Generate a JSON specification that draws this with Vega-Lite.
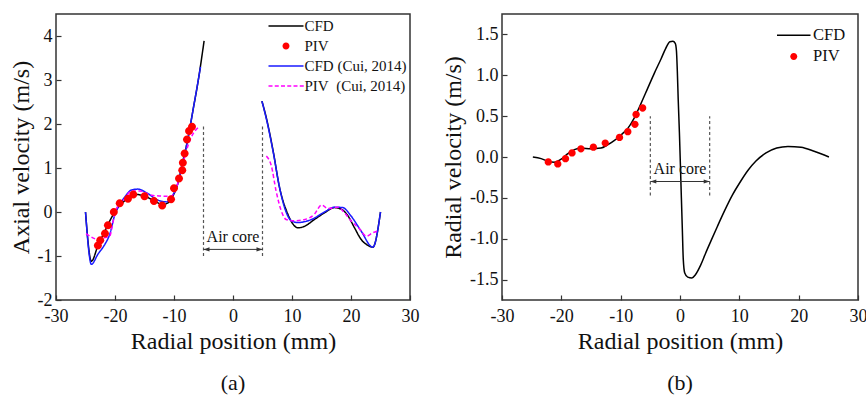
{
  "$schema": "https://vega.github.io/schema/vega-lite/v6.json",
  "background": "white",
  "padding": {"left": 8, "top": 13, "right": 0, "bottom": 0},
  "spacing": 20,
  "config": {
    "font": "Liberation Serif",
    "locale": {"number": {"decimal": ".", "thousands": ",", "grouping": [3], "currency": ["", ""], "minus": "-"}},
    "view": {"stroke": "#333333", "strokeWidth": 1.5},
    "axis": {
      "domain": false, "grid": false, "labelFont": "Liberation Serif", "labelFontSize": 18, "labelColor": "#111111",
      "titleFont": "Liberation Serif", "titleFontSize": 24, "titleFontWeight": "normal", "titleColor": "#111111",
      "tickColor": "#333333", "tickWidth": 1.2, "labelFlush": false, "labelOverlap": false
    },
    "legend": {"labelFont": "Liberation Serif"},
    "title": {"font": "Liberation Serif", "fontSize": 22, "fontWeight": "normal", "color": "#111111"}
  },
  "resolve": {"scale": {"color": "independent", "shape": "independent", "strokeDash": "independent", "stroke": "independent"}, "legend": {"color": "independent", "shape": "independent"}},
  "datasets": {
    "axialLines": [
      {"series": "CFD", "part": "L", "r": -25, "v": 0},
      {"series": "CFD", "part": "L", "r": -24, "v": -1.12},
      {"series": "CFD", "part": "L", "r": -22.9, "v": -0.77},
      {"series": "CFD", "part": "L", "r": -21.7, "v": -0.43},
      {"series": "CFD", "part": "L", "r": -20.6, "v": -0.13},
      {"series": "CFD", "part": "L", "r": -19.5, "v": 0.1},
      {"series": "CFD", "part": "L", "r": -18.4, "v": 0.25},
      {"series": "CFD", "part": "L", "r": -17.2, "v": 0.36},
      {"series": "CFD", "part": "L", "r": -16.4, "v": 0.4},
      {"series": "CFD", "part": "L", "r": -15, "v": 0.36},
      {"series": "CFD", "part": "L", "r": -13.3, "v": 0.25},
      {"series": "CFD", "part": "L", "r": -11.9, "v": 0.17},
      {"series": "CFD", "part": "L", "r": -11, "v": 0.21},
      {"series": "CFD", "part": "L", "r": -10.2, "v": 0.36},
      {"series": "CFD", "part": "L", "r": -9.3, "v": 0.67},
      {"series": "CFD", "part": "L", "r": -8.5, "v": 1.16},
      {"series": "CFD", "part": "L", "r": -7.6, "v": 1.69},
      {"series": "CFD", "part": "L", "r": -6.8, "v": 2.3},
      {"series": "CFD", "part": "L", "r": -5.9, "v": 2.98},
      {"series": "CFD", "part": "L", "r": -4.9, "v": 3.89},
      {"series": "CFD", "part": "R", "r": 4.9, "v": 2.52},
      {"series": "CFD", "part": "R", "r": 5.65, "v": 2.14},
      {"series": "CFD", "part": "R", "r": 6.8, "v": 1.39},
      {"series": "CFD", "part": "R", "r": 7.9, "v": 0.55},
      {"series": "CFD", "part": "R", "r": 9.3, "v": -0.05},
      {"series": "CFD", "part": "R", "r": 10.2, "v": -0.28},
      {"series": "CFD", "part": "R", "r": 11, "v": -0.36},
      {"series": "CFD", "part": "R", "r": 12.2, "v": -0.32},
      {"series": "CFD", "part": "R", "r": 13.8, "v": -0.17},
      {"series": "CFD", "part": "R", "r": 15.5, "v": -0.02},
      {"series": "CFD", "part": "R", "r": 17.2, "v": 0.1},
      {"series": "CFD", "part": "R", "r": 18.4, "v": 0.06},
      {"series": "CFD", "part": "R", "r": 19.5, "v": -0.09},
      {"series": "CFD", "part": "R", "r": 20.6, "v": -0.36},
      {"series": "CFD", "part": "R", "r": 21.7, "v": -0.62},
      {"series": "CFD", "part": "R", "r": 22.9, "v": -0.76},
      {"series": "CFD", "part": "R", "r": 23.7, "v": -0.8},
      {"series": "CFD", "part": "R", "r": 25, "v": 0},
      {"series": "CFD (Cui, 2014)", "part": "L", "r": -25, "v": 0},
      {"series": "CFD (Cui, 2014)", "part": "L", "r": -24, "v": -1.19},
      {"series": "CFD (Cui, 2014)", "part": "L", "r": -22.9, "v": -0.96},
      {"series": "CFD (Cui, 2014)", "part": "L", "r": -21.7, "v": -0.73},
      {"series": "CFD (Cui, 2014)", "part": "L", "r": -20.9, "v": -0.51},
      {"series": "CFD (Cui, 2014)", "part": "L", "r": -20, "v": -0.05},
      {"series": "CFD (Cui, 2014)", "part": "L", "r": -19.2, "v": 0.17},
      {"series": "CFD (Cui, 2014)", "part": "L", "r": -18.4, "v": 0.33},
      {"series": "CFD (Cui, 2014)", "part": "L", "r": -17.2, "v": 0.5},
      {"series": "CFD (Cui, 2014)", "part": "L", "r": -16.1, "v": 0.52},
      {"series": "CFD (Cui, 2014)", "part": "L", "r": -14.7, "v": 0.44},
      {"series": "CFD (Cui, 2014)", "part": "L", "r": -12.7, "v": 0.27},
      {"series": "CFD (Cui, 2014)", "part": "L", "r": -11.3, "v": 0.23},
      {"series": "CFD (Cui, 2014)", "part": "L", "r": -10.5, "v": 0.33},
      {"series": "CFD (Cui, 2014)", "part": "L", "r": -9.6, "v": 0.55},
      {"series": "CFD (Cui, 2014)", "part": "L", "r": -8.6, "v": 1.05},
      {"series": "CFD (Cui, 2014)", "part": "L", "r": -7.6, "v": 1.7},
      {"series": "CFD (Cui, 2014)", "part": "L", "r": -6.6, "v": 2.45},
      {"series": "CFD (Cui, 2014)", "part": "L", "r": -5.5, "v": 3.3},
      {"series": "CFD (Cui, 2014)", "part": "R", "r": 4.9, "v": 2.52},
      {"series": "CFD (Cui, 2014)", "part": "R", "r": 5.65, "v": 2.12},
      {"series": "CFD (Cui, 2014)", "part": "R", "r": 6.8, "v": 1.37},
      {"series": "CFD (Cui, 2014)", "part": "R", "r": 7.9, "v": 0.55},
      {"series": "CFD (Cui, 2014)", "part": "R", "r": 9, "v": 0},
      {"series": "CFD (Cui, 2014)", "part": "R", "r": 9.9, "v": -0.2},
      {"series": "CFD (Cui, 2014)", "part": "R", "r": 11, "v": -0.24},
      {"series": "CFD (Cui, 2014)", "part": "R", "r": 13.3, "v": -0.17},
      {"series": "CFD (Cui, 2014)", "part": "R", "r": 15.5, "v": 0},
      {"series": "CFD (Cui, 2014)", "part": "R", "r": 17.2, "v": 0.11},
      {"series": "CFD (Cui, 2014)", "part": "R", "r": 18.6, "v": 0.1},
      {"series": "CFD (Cui, 2014)", "part": "R", "r": 20, "v": -0.09},
      {"series": "CFD (Cui, 2014)", "part": "R", "r": 21.7, "v": -0.43},
      {"series": "CFD (Cui, 2014)", "part": "R", "r": 23.7, "v": -0.8},
      {"series": "CFD (Cui, 2014)", "part": "R", "r": 25, "v": 0},
      {"series": "PIV\u00a0 (Cui, 2014)", "part": "L", "r": -24.9, "v": -0.49},
      {"series": "PIV\u00a0 (Cui, 2014)", "part": "L", "r": -22.9, "v": -0.62},
      {"series": "PIV\u00a0 (Cui, 2014)", "part": "L", "r": -21.7, "v": -0.58},
      {"series": "PIV\u00a0 (Cui, 2014)", "part": "L", "r": -20.9, "v": -0.55},
      {"series": "PIV\u00a0 (Cui, 2014)", "part": "L", "r": -20.3, "v": -0.2},
      {"series": "PIV\u00a0 (Cui, 2014)", "part": "L", "r": -19.8, "v": 0.06},
      {"series": "PIV\u00a0 (Cui, 2014)", "part": "L", "r": -18.4, "v": 0.29},
      {"series": "PIV\u00a0 (Cui, 2014)", "part": "L", "r": -17.2, "v": 0.48},
      {"series": "PIV\u00a0 (Cui, 2014)", "part": "L", "r": -15.8, "v": 0.48},
      {"series": "PIV\u00a0 (Cui, 2014)", "part": "L", "r": -13.8, "v": 0.38},
      {"series": "PIV\u00a0 (Cui, 2014)", "part": "L", "r": -11.6, "v": 0.36},
      {"series": "PIV\u00a0 (Cui, 2014)", "part": "L", "r": -10.5, "v": 0.36},
      {"series": "PIV\u00a0 (Cui, 2014)", "part": "L", "r": -9.6, "v": 0.55},
      {"series": "PIV\u00a0 (Cui, 2014)", "part": "L", "r": -8.8, "v": 0.93},
      {"series": "PIV\u00a0 (Cui, 2014)", "part": "L", "r": -7.9, "v": 1.39},
      {"series": "PIV\u00a0 (Cui, 2014)", "part": "L", "r": -7.1, "v": 1.69},
      {"series": "PIV\u00a0 (Cui, 2014)", "part": "L", "r": -5.65, "v": 1.95},
      {"series": "PIV\u00a0 (Cui, 2014)", "part": "R", "r": 5.65, "v": 1.27},
      {"series": "PIV\u00a0 (Cui, 2014)", "part": "R", "r": 6.5, "v": 1.05},
      {"series": "PIV\u00a0 (Cui, 2014)", "part": "R", "r": 7.3, "v": 0.48},
      {"series": "PIV\u00a0 (Cui, 2014)", "part": "R", "r": 8.2, "v": 0.02},
      {"series": "PIV\u00a0 (Cui, 2014)", "part": "R", "r": 9, "v": -0.17},
      {"series": "PIV\u00a0 (Cui, 2014)", "part": "R", "r": 10.2, "v": -0.2},
      {"series": "PIV\u00a0 (Cui, 2014)", "part": "R", "r": 12.2, "v": -0.17},
      {"series": "PIV\u00a0 (Cui, 2014)", "part": "R", "r": 13.8, "v": -0.05},
      {"series": "PIV\u00a0 (Cui, 2014)", "part": "R", "r": 15, "v": 0.16},
      {"series": "PIV\u00a0 (Cui, 2014)", "part": "R", "r": 16.1, "v": 0.08},
      {"series": "PIV\u00a0 (Cui, 2014)", "part": "R", "r": 17.8, "v": 0.11},
      {"series": "PIV\u00a0 (Cui, 2014)", "part": "R", "r": 18.9, "v": -0.02},
      {"series": "PIV\u00a0 (Cui, 2014)", "part": "R", "r": 20, "v": -0.2},
      {"series": "PIV\u00a0 (Cui, 2014)", "part": "R", "r": 21.5, "v": -0.39},
      {"series": "PIV\u00a0 (Cui, 2014)", "part": "R", "r": 22.6, "v": -0.55},
      {"series": "PIV\u00a0 (Cui, 2014)", "part": "R", "r": 23.7, "v": -0.47},
      {"series": "PIV\u00a0 (Cui, 2014)", "part": "R", "r": 24.6, "v": -0.43}
    ],
    "axialPIV": [
      {"series": "PIV", "r": -22.9, "v": -0.76},
      {"series": "PIV", "r": -22.5, "v": -0.64},
      {"series": "PIV", "r": -21.7, "v": -0.49},
      {"series": "PIV", "r": -21.2, "v": -0.3},
      {"series": "PIV", "r": -20.2, "v": 0.0},
      {"series": "PIV", "r": -19.2, "v": 0.2},
      {"series": "PIV", "r": -17.8, "v": 0.3},
      {"series": "PIV", "r": -16.9, "v": 0.4},
      {"series": "PIV", "r": -15, "v": 0.36},
      {"series": "PIV", "r": -13.4, "v": 0.25},
      {"series": "PIV", "r": -12, "v": 0.15},
      {"series": "PIV", "r": -10.5, "v": 0.29},
      {"series": "PIV", "r": -10, "v": 0.54},
      {"series": "PIV", "r": -9.15, "v": 0.76},
      {"series": "PIV", "r": -8.6, "v": 0.95},
      {"series": "PIV", "r": -8.5, "v": 1.12},
      {"series": "PIV", "r": -8.2, "v": 1.33},
      {"series": "PIV", "r": -7.8, "v": 1.65},
      {"series": "PIV", "r": -7.45, "v": 1.84},
      {"series": "PIV", "r": -6.95, "v": 1.94}
    ],
    "radialLines": [
      {"series": "CFD", "r": -24.8, "v": 0},
      {"series": "CFD", "r": -23.4, "v": -0.02},
      {"series": "CFD", "r": -22.3, "v": -0.05},
      {"series": "CFD", "r": -21.2, "v": -0.065},
      {"series": "CFD", "r": -20.1, "v": -0.03},
      {"series": "CFD", "r": -18.9, "v": 0.04},
      {"series": "CFD", "r": -17.8, "v": 0.09},
      {"series": "CFD", "r": -16.7, "v": 0.11},
      {"series": "CFD", "r": -15, "v": 0.1},
      {"series": "CFD", "r": -13.3, "v": 0.11},
      {"series": "CFD", "r": -12.2, "v": 0.15},
      {"series": "CFD", "r": -11.1, "v": 0.2},
      {"series": "CFD", "r": -9.95, "v": 0.27},
      {"series": "CFD", "r": -8.8, "v": 0.35},
      {"series": "CFD", "r": -7.7, "v": 0.48},
      {"series": "CFD", "r": -6.6, "v": 0.65},
      {"series": "CFD", "r": -5.45, "v": 0.84},
      {"series": "CFD", "r": -4.3, "v": 1.03},
      {"series": "CFD", "r": -3.2, "v": 1.2},
      {"series": "CFD", "r": -2.4, "v": 1.33},
      {"series": "CFD", "r": -1.7, "v": 1.41},
      {"series": "CFD", "r": -1.2, "v": 1.415},
      {"series": "CFD", "r": -0.8, "v": 1.39},
      {"series": "CFD", "r": -0.6, "v": 1.3},
      {"series": "CFD", "r": -0.45, "v": 1.05},
      {"series": "CFD", "r": -0.3, "v": 0.7},
      {"series": "CFD", "r": -0.1, "v": 0.3},
      {"series": "CFD", "r": 0.15, "v": -0.3},
      {"series": "CFD", "r": 0.4, "v": -0.9},
      {"series": "CFD", "r": 0.55, "v": -1.25},
      {"series": "CFD", "r": 0.8, "v": -1.42},
      {"series": "CFD", "r": 1.3, "v": -1.47},
      {"series": "CFD", "r": 2.0, "v": -1.48},
      {"series": "CFD", "r": 2.6, "v": -1.44},
      {"series": "CFD", "r": 3.5, "v": -1.32},
      {"series": "CFD", "r": 4.3, "v": -1.18},
      {"series": "CFD", "r": 5.2, "v": -1.03},
      {"series": "CFD", "r": 6.3, "v": -0.85},
      {"series": "CFD", "r": 7.5, "v": -0.66},
      {"series": "CFD", "r": 8.8, "v": -0.47},
      {"series": "CFD", "r": 10.2, "v": -0.3},
      {"series": "CFD", "r": 11.5, "v": -0.16},
      {"series": "CFD", "r": 12.8, "v": -0.05},
      {"series": "CFD", "r": 14.5, "v": 0.05},
      {"series": "CFD", "r": 16.3, "v": 0.11},
      {"series": "CFD", "r": 18.2, "v": 0.13},
      {"series": "CFD", "r": 20.4, "v": 0.12},
      {"series": "CFD", "r": 22.6, "v": 0.07},
      {"series": "CFD", "r": 25.1, "v": 0.0}
    ],
    "radialPIV": [
      {"series": "PIV", "r": -22.2, "v": -0.06},
      {"series": "PIV", "r": -20.6, "v": -0.085},
      {"series": "PIV", "r": -19.3, "v": -0.02},
      {"series": "PIV", "r": -18.2, "v": 0.05},
      {"series": "PIV", "r": -16.7, "v": 0.1},
      {"series": "PIV", "r": -14.6, "v": 0.12},
      {"series": "PIV", "r": -12.6, "v": 0.17},
      {"series": "PIV", "r": -10.2, "v": 0.24},
      {"series": "PIV", "r": -8.8, "v": 0.31},
      {"series": "PIV", "r": -7.6, "v": 0.4},
      {"series": "PIV", "r": -7.4, "v": 0.52},
      {"series": "PIV", "r": -6.3, "v": 0.6}
    ]
  },
  "hconcat": [
    {
      "width": 354,
      "height": 286,
      "title": {"text": "(a)", "orient": "bottom", "offset": 20},
      "layer": [
        {
          "data": {"name": "axialLines"},
          "mark": {"type": "line", "strokeWidth": 1.5, "interpolate": "monotone"},
          "encoding": {
            "x": {"field": "r", "type": "quantitative", "scale": {"domain": [-30, 30], "nice": false},
              "axis": {"title": "Radial position (mm)", "values": [-30, -25, -20, -15, -10, -5, 0, 5, 10, 15, 20, 25, 30],
                "labelFont": "Liberation Serif", "titleFont": "Liberation Serif",
                "labelExpr": "datum.value % 10 === 0 ? replace(datum.label, '\u2212', '-') : ''",
                "tickSize": {"condition": {"test": "datum.value % 10 === 0", "value": -5}, "value": -3},
                "labelPadding": 12, "titlePadding": 4}},
            "y": {"field": "v", "type": "quantitative", "scale": {"domain": [-2, 4.5], "nice": false, "zero": false},
              "axis": {"title": "Axial velocity (m/s)", "values": [-2, -1.5, -1, -0.5, 0, 0.5, 1, 1.5, 2, 2.5, 3, 3.5, 4],
                "labelFont": "Liberation Serif", "titleFont": "Liberation Serif",
                "labelExpr": "datum.value % 1 === 0 ? replace(datum.label, '\u2212', '-') : ''",
                "tickSize": {"condition": {"test": "datum.value % 1 === 0", "value": -5}, "value": -3},
                "labelPadding": 9, "titlePadding": 4}},
            "stroke": {"field": "series", "type": "nominal", "legend": null,
              "scale": {"domain": ["CFD", "CFD (Cui, 2014)", "PIV\u00a0 (Cui, 2014)"], "range": ["#000000", "#1a1aff", "#ff00ff"]}},
            "strokeDash": {"field": "series", "type": "nominal", "legend": null,
              "scale": {"domain": ["CFD", "CFD (Cui, 2014)", "PIV\u00a0 (Cui, 2014)"], "range": [[1, 0], [1, 0], [4, 2.5]]}},
            "detail": {"field": "part", "type": "nominal"}
          }
        },
        {
          "data": {"name": "axialPIV"},
          "mark": {"type": "point", "filled": true, "size": 130, "opacity": 1, "strokeWidth": 0},
          "encoding": {
            "x": {"field": "r", "type": "quantitative"},
            "y": {"field": "v", "type": "quantitative"},
            "color": {"field": "series", "type": "nominal",
              "scale": {"domain": ["CFD", "PIV", "CFD (Cui, 2014)", "PIV\u00a0 (Cui, 2014)"], "range": ["#000000", "#ff0000", "#1a1aff", "#ff00ff"]},
              "legend": {"title": null, "orient": "none", "legendX": 210, "legendY": 4.5, "symbolSize": 100, "symbolOffset": 12.5, "labelOffset": 11, "labelFontSize": 15, "labelFont": "Liberation Serif", "labelColor": "#111111", "rowPadding": 4, "padding": 0, "symbolStrokeWidth": 0}},
            "shape": {"field": "series", "type": "nominal",
              "scale": {"domain": ["CFD", "PIV", "CFD (Cui, 2014)", "PIV\u00a0 (Cui, 2014)"],
                "range": ["M-3.5,-0.16H3.5V0.16H-3.5Z", "M0.7,0A0.7,0.7,0,1,1,-0.7,0A0.7,0.7,0,1,1,0.7,0Z", "M-3.5,-0.16H3.5V0.16H-3.5Z",
                  "M-3.5,-0.14h0.8v0.28h-0.8Z M-2.25,-0.14h0.8v0.28h-0.8Z M-1,-0.14h0.8v0.28h-0.8Z M0.25,-0.14h0.8v0.28h-0.8Z M1.5,-0.14h0.8v0.28h-0.8Z M2.75,-0.14h0.8v0.28h-0.8Z"]},
              "legend": {"title": null, "orient": "none", "legendX": 210, "legendY": 4.5, "symbolSize": 100, "symbolOffset": 12.5, "labelOffset": 11, "labelFontSize": 15, "labelFont": "Liberation Serif", "labelColor": "#111111", "rowPadding": 4, "padding": 0, "symbolStrokeWidth": 0}}
          }
        },
        {
          "data": {"values": [{"r": -5, "lo": -1, "hi": 2}, {"r": 5, "lo": -1, "hi": 2}]},
          "mark": {"type": "rule", "strokeDash": [3, 2.5], "color": "#555555", "strokeWidth": 1.2},
          "encoding": {"x": {"field": "r", "type": "quantitative"}, "y": {"field": "lo", "type": "quantitative"}, "y2": {"field": "hi"}}
        },
        {
          "data": {"values": [{"a": -5, "b": 5, "y": -0.85}]},
          "mark": {"type": "rule", "color": "#333333", "strokeWidth": 1},
          "encoding": {"x": {"field": "a", "type": "quantitative"}, "x2": {"field": "b"}, "y": {"field": "y", "type": "quantitative"}}
        },
        {
          "data": {"values": [{"r": -5, "y": -0.85}]},
          "mark": {"type": "point", "filled": true, "opacity": 1, "color": "#333333", "size": 36, "shape": "M0,0L2,-0.7L2,0.7Z"},
          "encoding": {"x": {"field": "r", "type": "quantitative"}, "y": {"field": "y", "type": "quantitative"}}
        },
        {
          "data": {"values": [{"r": 5, "y": -0.85}]},
          "mark": {"type": "point", "filled": true, "opacity": 1, "color": "#333333", "size": 36, "shape": "M0,0L-2,-0.7L-2,0.7Z"},
          "encoding": {"x": {"field": "r", "type": "quantitative"}, "y": {"field": "y", "type": "quantitative"}}
        },
        {
          "data": {"values": [{"r": 0, "y": -0.57, "label": "Air core"}]},
          "mark": {"type": "text", "fontSize": 16, "font": "Liberation Serif", "color": "#111111"},
          "encoding": {"x": {"field": "r", "type": "quantitative"}, "y": {"field": "y", "type": "quantitative"}, "text": {"field": "label"}}
        }
      ]
    },
    {
      "width": 356,
      "height": 286,
      "title": {"text": "(b)", "orient": "bottom", "offset": 20},
      "layer": [
        {
          "data": {"name": "radialLines"},
          "mark": {"type": "line", "strokeWidth": 1.5, "interpolate": "monotone", "color": "#000000"},
          "encoding": {
            "x": {"field": "r", "type": "quantitative", "scale": {"domain": [-30, 30], "nice": false},
              "axis": {"title": "Radial position (mm)", "values": [-30, -25, -20, -15, -10, -5, 0, 5, 10, 15, 20, 25, 30],
                "labelFont": "Liberation Serif", "titleFont": "Liberation Serif",
                "labelExpr": "datum.value % 10 === 0 ? replace(datum.label, '\u2212', '-') : ''",
                "tickSize": {"condition": {"test": "datum.value % 10 === 0", "value": -5}, "value": -3},
                "labelPadding": 12, "titlePadding": 4}},
            "y": {"field": "v", "type": "quantitative", "scale": {"domain": [-1.75, 1.75], "nice": false, "zero": false},
              "axis": {"title": "Radial velocity (m/s)", "values": [-1.5, -1.25, -1, -0.75, -0.5, -0.25, 0, 0.25, 0.5, 0.75, 1, 1.25, 1.5],
                "labelFont": "Liberation Serif", "titleFont": "Liberation Serif",
                "labelExpr": "datum.value % 0.5 === 0 ? replace(format(datum.value, '.1f'), '\u2212', '-') : ''",
                "tickSize": {"condition": {"test": "datum.value % 0.5 === 0", "value": -5}, "value": -3},
                "labelPadding": 9, "titlePadding": 4}}
          }
        },
        {
          "data": {"name": "radialPIV"},
          "mark": {"type": "point", "filled": true, "size": 110, "opacity": 1, "strokeWidth": 0},
          "encoding": {
            "x": {"field": "r", "type": "quantitative"},
            "y": {"field": "v", "type": "quantitative"},
            "color": {"field": "series", "type": "nominal",
              "scale": {"domain": ["CFD", "PIV"], "range": ["#000000", "#ff0000"]},
              "legend": {"title": null, "orient": "none", "legendX": 271, "legendY": 13, "symbolSize": 100, "symbolOffset": 12.5, "labelOffset": 11, "labelFontSize": 16.5, "labelFont": "Liberation Serif", "labelColor": "#111111", "rowPadding": 4.2, "padding": 0, "symbolStrokeWidth": 0}},
            "shape": {"field": "series", "type": "nominal",
              "scale": {"domain": ["CFD", "PIV"], "range": ["M-3.35,-0.16H3.35V0.16H-3.35Z", "M0.7,0A0.7,0.7,0,1,1,-0.7,0A0.7,0.7,0,1,1,0.7,0Z"]},
              "legend": {"title": null, "orient": "none", "legendX": 271, "legendY": 13, "symbolSize": 100, "symbolOffset": 12.5, "labelOffset": 11, "labelFontSize": 16.5, "labelFont": "Liberation Serif", "labelColor": "#111111", "rowPadding": 4.2, "padding": 0, "symbolStrokeWidth": 0}}
          }
        },
        {
          "data": {"values": [{"r": -5, "lo": -0.47, "hi": 0.5}, {"r": 5, "lo": -0.47, "hi": 0.5}]},
          "mark": {"type": "rule", "strokeDash": [3, 2.5], "color": "#555555", "strokeWidth": 1.2},
          "encoding": {"x": {"field": "r", "type": "quantitative"}, "y": {"field": "lo", "type": "quantitative"}, "y2": {"field": "hi"}}
        },
        {
          "data": {"values": [{"a": -5, "b": 5, "y": -0.3}]},
          "mark": {"type": "rule", "color": "#333333", "strokeWidth": 1},
          "encoding": {"x": {"field": "a", "type": "quantitative"}, "x2": {"field": "b"}, "y": {"field": "y", "type": "quantitative"}}
        },
        {
          "data": {"values": [{"r": -5, "y": -0.3}]},
          "mark": {"type": "point", "filled": true, "opacity": 1, "color": "#333333", "size": 36, "shape": "M0,0L2,-0.7L2,0.7Z"},
          "encoding": {"x": {"field": "r", "type": "quantitative"}, "y": {"field": "y", "type": "quantitative"}}
        },
        {
          "data": {"values": [{"r": 5, "y": -0.3}]},
          "mark": {"type": "point", "filled": true, "opacity": 1, "color": "#333333", "size": 36, "shape": "M0,0L-2,-0.7L-2,0.7Z"},
          "encoding": {"x": {"field": "r", "type": "quantitative"}, "y": {"field": "y", "type": "quantitative"}}
        },
        {
          "data": {"values": [{"r": 0, "y": -0.15, "label": "Air core"}]},
          "mark": {"type": "text", "fontSize": 16, "font": "Liberation Serif", "color": "#111111"},
          "encoding": {"x": {"field": "r", "type": "quantitative"}, "y": {"field": "y", "type": "quantitative"}, "text": {"field": "label"}}
        }
      ]
    }
  ]
}
